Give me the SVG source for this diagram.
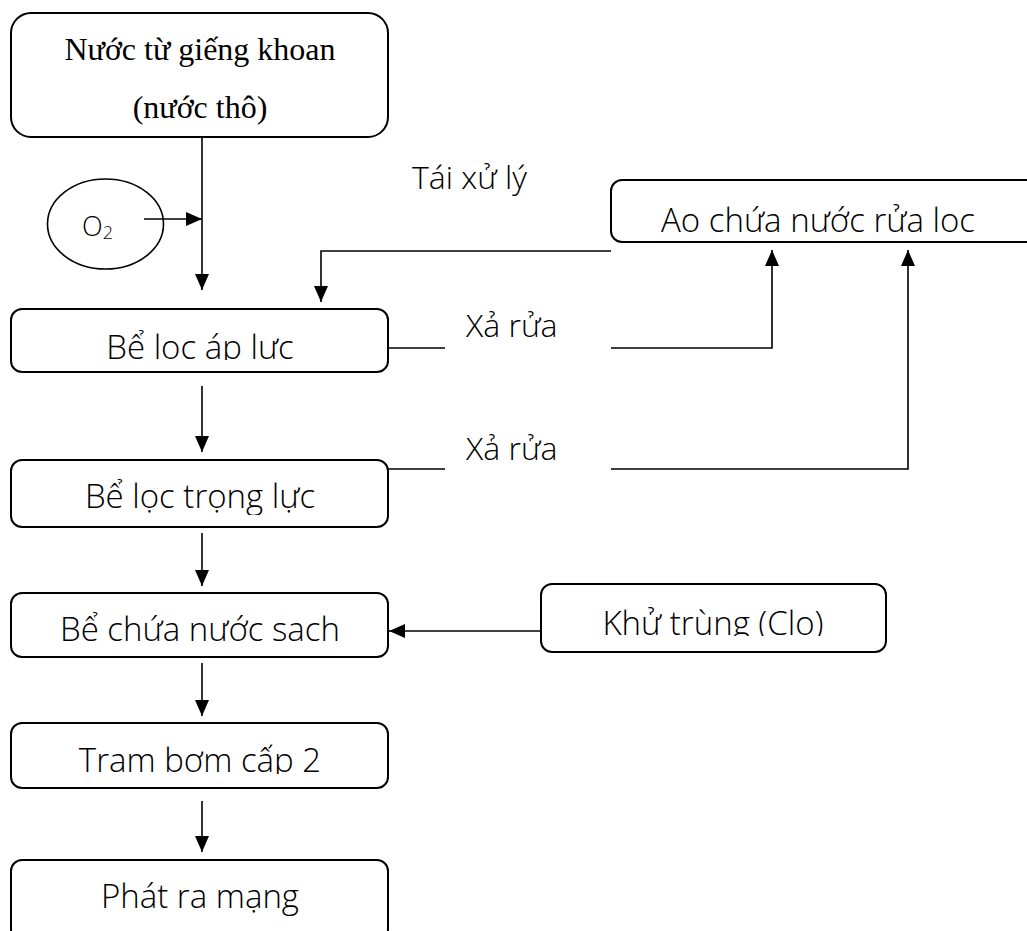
<svg xmlns="http://www.w3.org/2000/svg" width="1027" height="931" viewBox="0 0 1027 931">
  <style>
    .box { fill: #fff; stroke: #000; stroke-width: 2; }
    .lbl { font-family: "Open Sans", "Liberation Sans", sans-serif; font-weight: 300; font-size: 33px; fill: #000; text-anchor: middle; }
    .note { font-family: "Open Sans", "Liberation Sans", sans-serif; font-weight: 300; font-size: 32px; fill: #000; }
    .serif { font-family: "Liberation Serif", "Times New Roman", serif; font-weight: normal; font-size: 32px; fill: #000; text-anchor: middle; }
    .wire { fill: none; stroke: #000; stroke-width: 1.6; }
  </style>
  <defs>
    <marker id="arr" markerWidth="16" markerHeight="14" refX="16" refY="7" orient="auto" markerUnits="userSpaceOnUse">
      <path d="M0,0 L16,7 L0,14 Z" fill="#000"/>
    </marker>
    <clipPath id="c1"><rect x="11" y="300" width="378" height="60"/></clipPath>
    <clipPath id="c2"><rect x="11" y="455" width="378" height="60"/></clipPath>
    <clipPath id="c3"><rect x="11" y="590" width="378" height="52"/></clipPath>
    <clipPath id="c4"><rect x="11" y="720" width="378" height="54"/></clipPath>
    <clipPath id="c5"><rect x="611" y="175" width="416" height="58"/></clipPath>
    <clipPath id="c6"><rect x="541" y="580" width="345" height="56"/></clipPath>
  </defs>

  <g id="well">
    <rect class="box" x="11" y="13" width="377" height="124" rx="20"/>
    <text class="serif" x="200" y="60">Nước từ giếng khoan</text>
    <text class="serif" x="200" y="118">(nước thô)</text>
  </g>

  <g id="oxygen">
    <ellipse cx="105.5" cy="224" rx="58" ry="45" fill="#fff" stroke="#000" stroke-width="1.6"/>
    <text x="82" y="236" font-family="Open Sans, Liberation Sans, sans-serif" font-weight="300" font-size="27">O<tspan font-size="18" dy="3">2</tspan></text>
  </g>

  <g id="pressure-filter">
    <rect class="box" x="11" y="309" width="377" height="63" rx="11"/>
    <text class="lbl" x="200" y="359" clip-path="url(#c1)">Bể loc áp lưc</text>
  </g>

  <g id="gravity-filter">
    <rect class="box" x="11" y="460" width="377" height="67" rx="11"/>
    <text class="lbl" x="200" y="508" clip-path="url(#c2)">Bể lọc trọng lực</text>
  </g>

  <g id="clean-tank">
    <rect class="box" x="11" y="593" width="377" height="64" rx="11"/>
    <text class="lbl" x="200" y="641" clip-path="url(#c3)">Bể chứa nước sach</text>
  </g>

  <g id="pump-station">
    <rect class="box" x="11" y="723" width="377" height="65" rx="11"/>
    <text class="lbl" x="200" y="772" clip-path="url(#c4)">Tram bơm cấp 2</text>
  </g>

  <g id="distribution">
    <rect class="box" x="11" y="860" width="377" height="80" rx="11"/>
    <text class="lbl" x="200" y="908">Phát ra mạng</text>
  </g>

  <g id="wash-pond">
    <rect class="box" x="611" y="180" width="426" height="62" rx="11"/>
    <text class="lbl" x="818" y="232" clip-path="url(#c5)">Ao chứa nước rửa loc</text>
  </g>

  <g id="disinfection">
    <rect class="box" x="541" y="584" width="345" height="68" rx="11"/>
    <text class="lbl" x="713" y="635" clip-path="url(#c6)">Khử trùng (Clo)</text>
  </g>

  <g id="labels">
    <text class="note" x="412" y="189">Tái xử lý</text>
    <text class="note" x="466" y="337">Xả rửa</text>
    <text class="note" x="466" y="460">Xả rửa</text>
  </g>

  <g id="connectors">
    <line class="wire" x1="202" y1="137" x2="202" y2="290" marker-end="url(#arr)"/>
    <line class="wire" x1="144" y1="219" x2="202" y2="219" marker-end="url(#arr)"/>
    <polyline class="wire" points="611,251 321,251 321,302" marker-end="url(#arr)"/>
    <line class="wire" x1="388" y1="348" x2="445" y2="348"/>
    <polyline class="wire" points="611,348 772,348 772,250" marker-end="url(#arr)"/>
    <line class="wire" x1="388" y1="469" x2="445" y2="469"/>
    <polyline class="wire" points="611,469 908,469 908,250" marker-end="url(#arr)"/>
    <line class="wire" x1="202" y1="386" x2="202" y2="452" marker-end="url(#arr)"/>
    <line class="wire" x1="202" y1="533" x2="202" y2="586" marker-end="url(#arr)"/>
    <line class="wire" x1="541" y1="631" x2="389" y2="631" marker-end="url(#arr)"/>
    <line class="wire" x1="202" y1="663" x2="202" y2="716" marker-end="url(#arr)"/>
    <line class="wire" x1="202" y1="801" x2="202" y2="852" marker-end="url(#arr)"/>
  </g>
</svg>
